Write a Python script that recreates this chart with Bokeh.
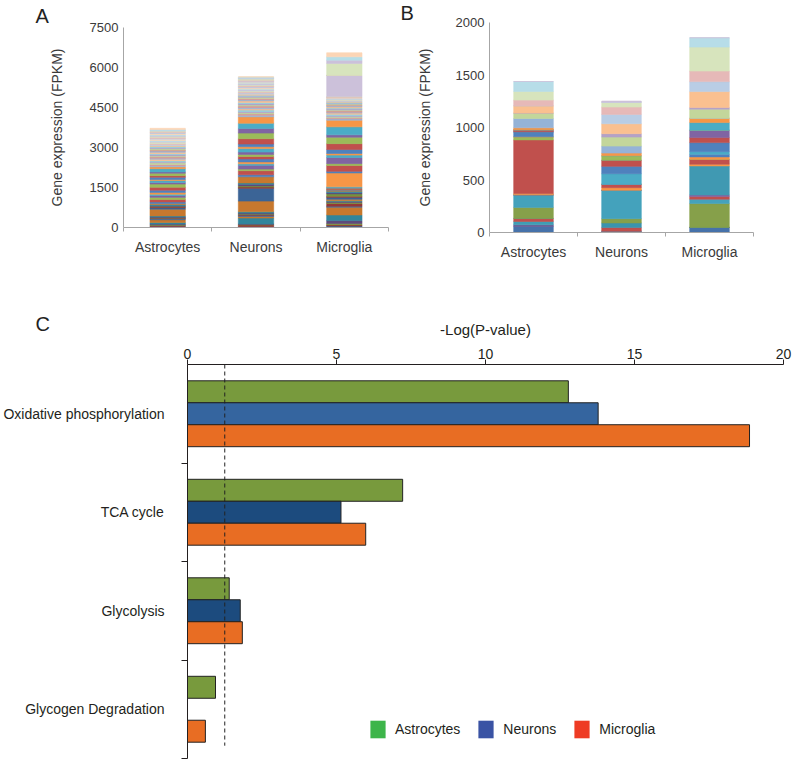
from bokeh.plotting import figure
from bokeh.layouts import column, row
from bokeh.models import ColumnDataSource, Range1d, FixedTicker, Title, Legend, LegendItem
from bokeh.embed import file_html
from bokeh.resources import INLINE

FONT = "Liberation Sans"
TXT = "#3a3a3a"

cell_types = ["Astrocytes", "Neurons", "Microglia"]

# ---------------- Panel A: all genes (FPKM), stacked bottom -> top ----------------
a_astro = [40, 35, 25, 30, 60, 100, 45, 20, 15, 25, 40, 250, 60, 30, 20, 25, 45, 35,
           60, 90, 80, 70, 50, 60, 90, 110, 120, 60, 70, 40, 85, 60, 90, 50, 120, 70,
           50, 40, 60, 35, 45, 55, 40, 50, 35, 45, 40, 50, 45, 40, 50, 35, 45, 40,
           40, 35, 45, 30, 40, 45, 30, 40, 35, 30, 35, 40, 30, 35, 30, 25, 35, 45]
a_neuron = [30, 60, 20, 25, 220, 60, 40, 30, 20, 35, 50, 400, 480, 50, 40, 60, 50, 230,
            80, 150, 60, 140, 60, 70, 110, 90, 80, 90, 130, 70, 100, 200, 210, 170, 200, 240,
            60, 50, 45, 40, 60, 45, 50, 55, 40, 50, 45, 60, 40, 50, 40, 45, 35, 40,
            45, 40, 35, 40, 35, 40, 35, 45, 30, 40, 30, 35, 35, 40, 45, 30, 40, 10]
a_micro = [60, 40, 50, 110, 210, 290, 40, 100, 40, 30, 30, 60, 70, 45, 85, 40, 60, 40,
           20, 30, 25, 20, 30, 520, 60, 220, 70, 230, 90, 60, 150, 220, 240, 90, 300, 250,
           50, 40, 35, 40, 55, 45, 35, 50, 30, 40, 35, 45, 40, 30, 35, 30, 35, 30,
           20, 20, 25, 20, 20, 25, 15, 22, 20, 790, 0, 0, 0, 0, 450, 120, 130, 150]

tier_dark = ["#3b6496", "#953735", "#77933c", "#604a7b", "#31859c", "#c7782e"]
tier_base = ["#4f81bd", "#c0504d", "#9bbb59", "#8064a2", "#4bacc6", "#f79646"]
tier_light = ["#95b3d7", "#d99694", "#c3d69b", "#b3a2c7", "#93cddd", "#fac090"]
tier_pastel = ["#b9cde5", "#e6b9b8", "#d7e4bd", "#ccc1da", "#b7dee8", "#fcd5b5"]
a_colors = tier_dark * 3 + tier_base * 3 + tier_light * 3 + tier_pastel * 3

a_yticks = [0, 1500, 3000, 4500, 6000, 7500]

# ---------------- Panel B: subset of genes (FPKM) ----------------
b_astro = [57, 16, 32, 29, 0, 105, 120, 0, 0, 0, 13, 510, 29, 0, 48, 0, 0, 19, 0, 0, 0, 19,
           89, 51, 0, 70, 0, 54, 82, 95, 0]
b_neuron = [12, 0, 0, 35, 44, 41, 270, 0, 0, 0, 25, 32, 0, 0, 0, 101, 70, 57, 0, 44, 0, 25,
            67, 86, 32, 95, 89, 70, 44, 0, 13]
b_micro = [48, 0, 0, 0, 0, 228, 41, 25, 16, 276, 16, 48, 0, 22, 25, 25, 86, 48, 70, 0, 73, 41,
           0, 86, 16, 152, 95, 101, 228, 89, 0]
b_colors = ["#4672aa", "#6b5b95", "#3f9db5", "#c0504d", "#3a94ae", "#86a04a", "#44a2bc",
            "#c0504d", "#8064a2", "#4099b2", "#f79646", "#c0504d", "#9bbb59", "#f79646",
            "#4f81bd", "#4bacc6", "#4f81bd", "#c0504d", "#8064a2", "#9bbb59", "#4bacc6",
            "#f79646", "#95b3d7", "#c3d69b", "#b3a2c7", "#fac090", "#b9cde5", "#e6b9b8",
            "#d7e4bd", "#b7dde8", "#ccc1da"]
b_yticks = [0, 500, 1000, 1500, 2000]

# ---------------- Panel C: -Log(P-value) ----------------
pathways = ["Oxidative phosphorylation", "TCA cycle", "Glycolysis", "Glycogen Degradation"]
c_astro = [12.78, 7.22, 1.40, 0.94]
c_neuron = [13.78, 5.15, 1.77, None]
c_micro = [18.86, 5.98, 1.84, 0.60]
c_ticks = [0, 5, 10, 15, 20]
threshold = 1.25


def letter_title(text, offset, standoff):
    return Title(text=text, align="left", offset=offset, standoff=standoff,
                 text_font=FONT, text_font_size="20px", text_font_style="normal",
                 text_color="#222222")


def stacked(vals, colors, ymax, yticks, width, height, bl, br, bt, bb, barw,
            letter, loff, lstand, title_standoff):
    n = len(vals[0])
    xs = [i + 0.5 for i in range(len(cell_types))]
    data = {"x": xs}
    names = []
    for i in range(n):
        k = "g%d" % i
        data[k] = [vals[j][i] for j in range(3)]
        names.append(k)
    src = ColumnDataSource(data)
    p = figure(width=width, height=height, x_range=Range1d(0, 3), y_range=Range1d(0, ymax),
               output_backend="svg", toolbar_location=None, frame_align=False,
               title=letter_title(letter, loff, lstand),
               min_border_left=bl, min_border_right=br, min_border_top=bt, min_border_bottom=bb)
    p.vbar_stack(names, x="x", width=barw, color=colors, source=src, line_width=0.6)
    p.xgrid.visible = False
    p.ygrid.visible = False
    p.outline_line_color = None
    xa = p.xaxis[0]
    xa.ticker = FixedTicker(ticks=xs, minor_ticks=[0, 1, 2, 3])
    xa.major_label_overrides = {x: c for x, c in zip(xs, cell_types)}
    xa.major_tick_out = 0
    xa.major_tick_in = 0
    xa.minor_tick_out = 4
    xa.minor_tick_in = 0
    xa.axis_line_color = "#a6a6a6"
    xa.minor_tick_line_color = "#a6a6a6"
    xa.major_label_text_font = FONT
    xa.major_label_text_font_size = "14px"
    xa.major_label_text_color = TXT
    xa.major_label_standoff = 7
    ya = p.yaxis[0]
    ya.ticker = FixedTicker(ticks=yticks)
    ya.major_tick_out = 0
    ya.major_tick_in = 0
    ya.minor_tick_out = 0
    ya.minor_tick_in = 0
    ya.axis_line_color = "#a6a6a6"
    ya.major_label_text_font = FONT
    ya.major_label_text_font_size = "13px"
    ya.major_label_text_color = TXT
    ya.major_label_standoff = 5
    ya.axis_label = "Gene expression (FPKM)"
    ya.axis_label_text_font = FONT
    ya.axis_label_text_font_size = "14px"
    ya.axis_label_text_font_style = "normal"
    ya.axis_label_text_color = TXT
    ya.axis_label_standoff = title_standoff
    return p


pA = stacked([a_astro, a_neuron, a_micro], a_colors, 7500, a_yticks,
             400, 270, 123, 12, 27, 43, 0.4, "A", -88, 2, 22)
pB = stacked([b_astro, b_neuron, b_micro], b_colors, 2000, b_yticks,
             400, 270, 89, 47, 22, 38, 0.45, "B", -89, -3, 20)

# ---------------- Panel C figure ----------------
pC = figure(width=800, height=496, x_range=Range1d(0, 20), y_range=Range1d(4, 0),
            output_backend="svg", toolbar_location=None, x_axis_location="above",
            frame_align=False, title=letter_title("C", -152, -35),
            min_border_left=185, min_border_right=17, min_border_top=94, min_border_bottom=8)
pC.xgrid.visible = False
pC.ygrid.visible = False
pC.outline_line_color = None

bar_h = 0.223
offsets = [-bar_h, 0.0, bar_h]
series = [c_astro, c_neuron, c_micro]
fills = [["#789a3d"] * 4,
         ["#35659f", "#1c4b7e", "#1c4b7e", "#1c4b7e"],
         ["#e86d23"] * 4]
for vals, off, fc in zip(series, offsets, fills):
    ys, xs, cs = [], [], []
    for i, v in enumerate(vals):
        if v is None:
            continue
        ys.append(i + 0.5 + off)
        xs.append(v)
        cs.append(fc[i])
    src = ColumnDataSource(dict(y=ys, right=xs, c=cs))
    pC.hbar(y="y", left=0, right="right", height=bar_h, fill_color="c",
            line_color="#222222", line_width=1, source=src)

pC.segment(x0=[threshold], y0=[0], x1=[threshold], y1=[3.87], line_color="#222222",
           line_width=1, line_dash="4 3")

xa = pC.xaxis[0]
xa.ticker = FixedTicker(ticks=c_ticks)
xa.axis_label = "-Log(P-value)"
xa.axis_label_text_font = FONT
xa.axis_label_text_font_size = "15px"
xa.axis_label_text_font_style = "normal"
xa.axis_label_text_color = "#231f20"
xa.axis_label_standoff = 8
xa.major_label_text_font = FONT
xa.major_label_text_font_size = "14px"
xa.major_label_text_color = "#231f20"
xa.major_label_standoff = 1
xa.major_tick_out = 5
xa.major_tick_in = 0
xa.minor_tick_out = 0
xa.minor_tick_in = 0
xa.axis_line_color = "#231f20"
xa.major_tick_line_color = "#231f20"

ya = pC.yaxis[0]
centers = [i + 0.5 for i in range(len(pathways))]
ya.ticker = FixedTicker(ticks=centers, minor_ticks=[1, 2, 3, 4])
ya.major_label_overrides = {c: t for c, t in zip(centers, pathways)}
ya.major_tick_out = 0
ya.major_tick_in = 0
ya.minor_tick_out = 6
ya.minor_tick_in = 0
ya.axis_line_color = "#231f20"
ya.minor_tick_line_color = "#231f20"
ya.major_label_text_font = FONT
ya.major_label_text_font_size = "14px"
ya.major_label_text_color = "#231f20"
ya.major_label_standoff = 17

leg_colors = ["#3db54a", "#3a53a4", "#ee3b24"]
items = []
for name, col in zip(cell_types, leg_colors):
    r = pC.vbar(x=[float("nan")], top=[float("nan")], width=1, fill_color=col, line_color=None)
    items.append(LegendItem(label=name, renderers=[r]))
legend = Legend(items=items, orientation="horizontal", location=(181, 18),
                glyph_width=19, glyph_height=22, label_standoff=8, spacing=16,
                padding=0, margin=0, border_line_color=None, background_fill_alpha=0,
                label_text_font=FONT, label_text_font_size="14px",
                label_text_color="#231f20")
pC.add_layout(legend, "center")

layout = column(row(pA, pB), pC)
open("out.html", "w").write(file_html(layout, INLINE))
